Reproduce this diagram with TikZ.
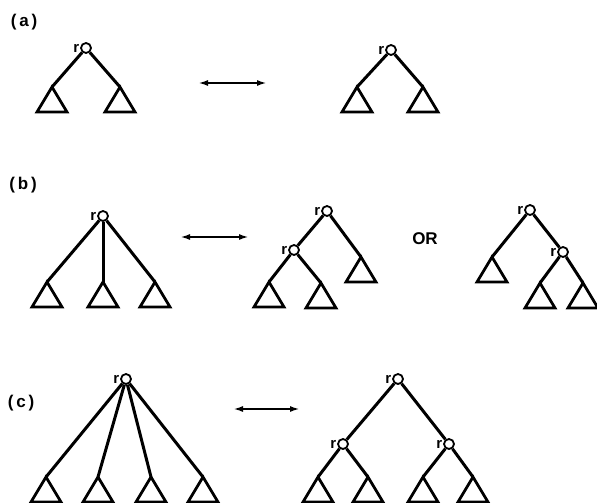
\documentclass[tikz,border=0pt]{standalone}
\usepackage{fontspec}
\setmainfont{Liberation Sans}
\usetikzlibrary{arrows.meta}
\tikzset{
  vtx/.style={circle,draw,line width=1.8pt,minimum size=10pt,inner sep=0pt,
    label={[font=\fontsize{15}{15}\selectfont\bfseries,inner sep=0.8pt,anchor=east,yshift=-0.5pt]west:r}},
  edge/.style={line width=3pt},
  dbl/.style={line width=2pt,{Latex[length=10pt,width=6pt]}-{Latex[length=10pt,width=6pt]}},
  tag/.style={font=\fontsize{17}{17}\selectfont\bfseries,inner sep=0pt},
  subtree/.pic={\draw[line width=2.8pt,line join=miter] (0,0) -- (-15,25) -- (15,25) -- cycle;}
}
\begin{document}
\begin{tikzpicture}[x=1pt,y=-1pt]
\useasboundingbox (0,0) rectangle (597,503);
\clip (0,0) rectangle (597,503);
% labels
\node[tag] (la) at (24,22) {(\,a\,)};
\node[tag] (lb) at (23,185) {(\,b\,)};
\node[tag] (lc) at (21,403) {(\,c\,)};
% ---------- (a) left
\node[vtx] (ra1) at (86,48) {};
\coordinate (ta1) at (52,87); \coordinate (ta2) at (120,87);
\draw[edge] (ra1) -- (ta1); \draw[edge] (ra1) -- (ta2);
\pic at (ta1) {subtree}; \pic at (ta2) {subtree};
% arrow
\coordinate (aa1) at (198,83); \coordinate (aa2) at (267,83);
\draw[dbl] (aa1) -- (aa2);
% ---------- (a) right
\node[vtx] (ra2) at (391,50) {};
\coordinate (ta3) at (357,87); \coordinate (ta4) at (423,87);
\draw[edge] (ra2) -- (ta3); \draw[edge] (ra2) -- (ta4);
\pic at (ta3) {subtree}; \pic at (ta4) {subtree};
% ---------- (b) left
\node[vtx] (rb1) at (103,216) {};
\coordinate (tb1) at (47,282); \coordinate (tb2) at (103,282); \coordinate (tb3) at (155,282);
\draw[edge] (rb1) -- (tb1); \draw[edge] (rb1) -- (tb2); \draw[edge] (rb1) -- (tb3);
\pic at (tb1) {subtree}; \pic at (tb2) {subtree}; \pic at (tb3) {subtree};
\coordinate (ab1) at (180,237); \coordinate (ab2) at (249,237);
\draw[dbl] (ab1) -- (ab2);
% ---------- (b) middle
\node[vtx] (rb2) at (327,211) {};
\node[vtx] (rb3) at (294,250) {};
\coordinate (tb4) at (361,257); \coordinate (tb5) at (269,282); \coordinate (tb6) at (321,283);
\draw[edge] (rb2) -- (rb3); \draw[edge] (rb2) -- (tb4);
\draw[edge] (rb3) -- (tb5); \draw[edge] (rb3) -- (tb6);
\pic at (tb4) {subtree}; \pic at (tb5) {subtree}; \pic at (tb6) {subtree};
\node[tag] (or) at (425,239) {OR};
% ---------- (b) right
\node[vtx] (rb4) at (530,210) {};
\node[vtx] (rb5) at (563,252) {};
\coordinate (tb7) at (492,257); \coordinate (tb8) at (540,283); \coordinate (tb9) at (583,283);
\draw[edge] (rb4) -- (tb7); \draw[edge] (rb4) -- (rb5);
\draw[edge] (rb5) -- (tb8); \draw[edge] (rb5) -- (tb9);
\pic at (tb7) {subtree}; \pic at (tb8) {subtree}; \pic at (tb9) {subtree};
% ---------- (c) left
\node[vtx] (rc1) at (126,379) {};
\coordinate (tc1) at (46,477); \coordinate (tc2) at (98,477);
\coordinate (tc3) at (151,477); \coordinate (tc4) at (203,477);
\foreach \t in {tc1,tc2,tc3,tc4}{\draw[edge] (rc1) -- (\t); \pic at (\t) {subtree};}
\coordinate (ac1) at (233,409); \coordinate (ac2) at (300,409);
\draw[dbl] (ac1) -- (ac2);
% ---------- (c) right
\node[vtx] (rc2) at (398,379) {};
\node[vtx] (rc3) at (343,444) {};
\node[vtx] (rc4) at (449,444) {};
\coordinate (tc5) at (318,477); \coordinate (tc6) at (368,477);
\coordinate (tc7) at (423,477); \coordinate (tc8) at (473,477);
\draw[edge] (rc2) -- (rc3); \draw[edge] (rc2) -- (rc4);
\draw[edge] (rc3) -- (tc5); \draw[edge] (rc3) -- (tc6);
\draw[edge] (rc4) -- (tc7); \draw[edge] (rc4) -- (tc8);
\foreach \t in {tc5,tc6,tc7,tc8}{\pic at (\t) {subtree};}
\end{tikzpicture}
\end{document}
